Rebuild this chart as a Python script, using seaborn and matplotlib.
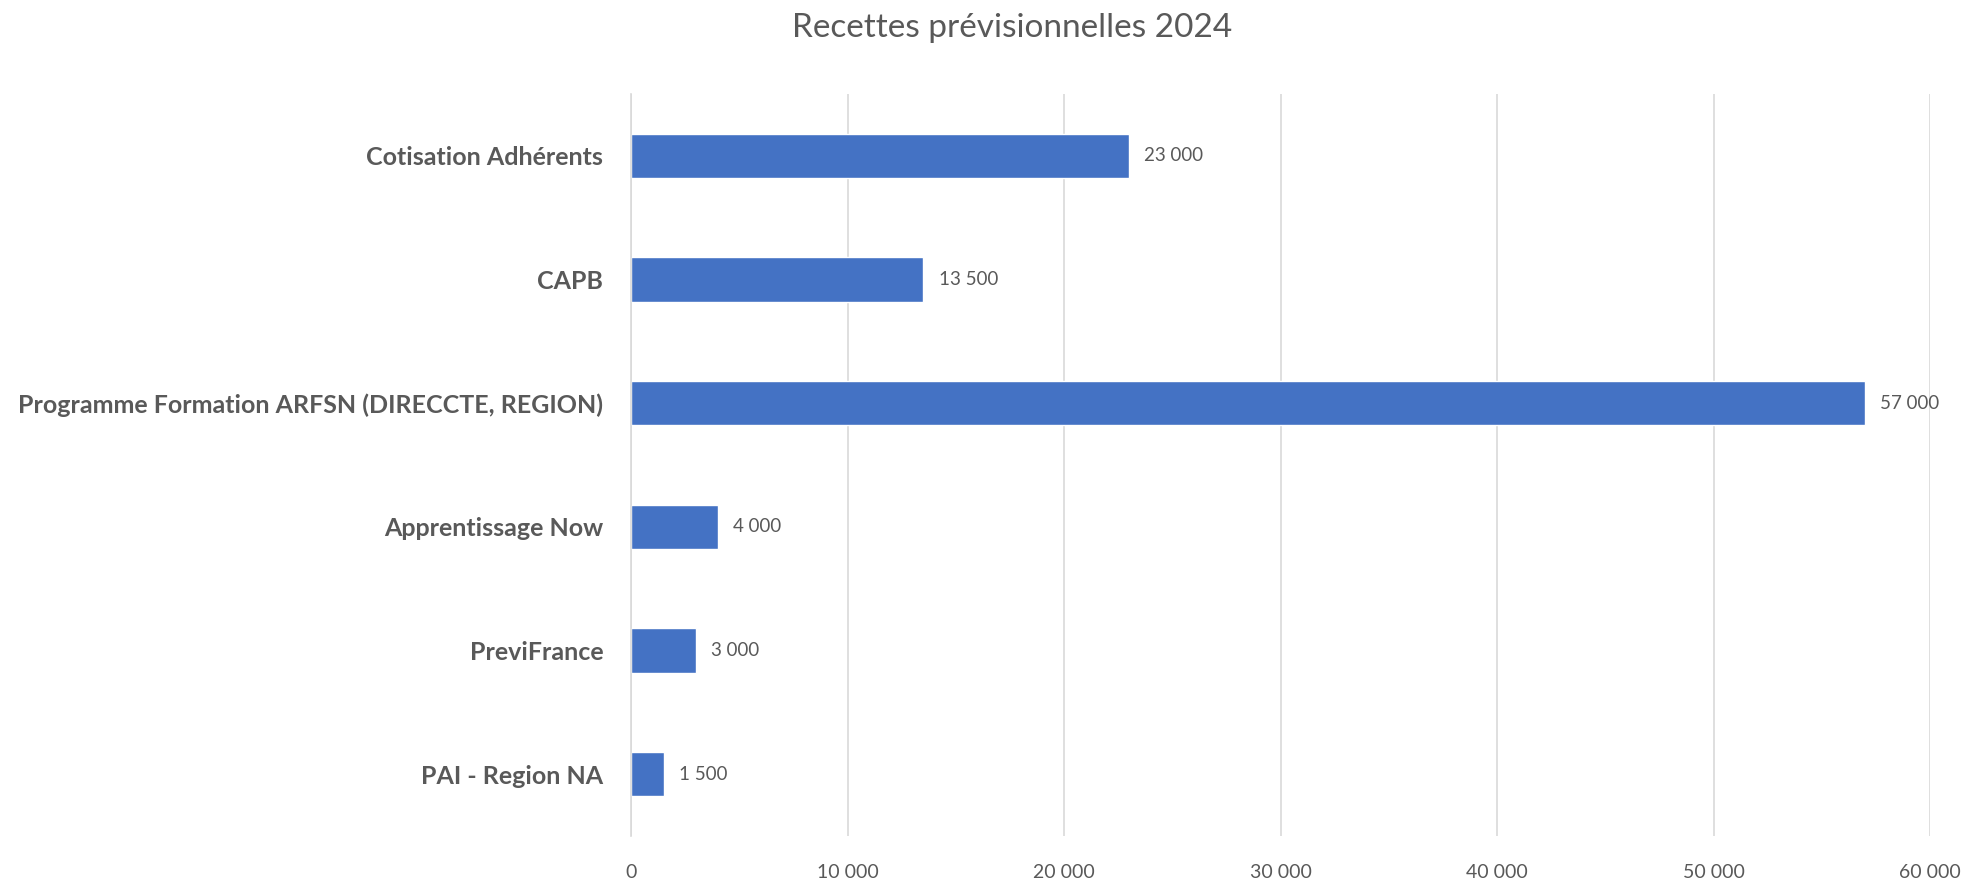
import matplotlib
matplotlib.use("Agg")
import matplotlib.pyplot as plt
import seaborn as sns

categories = [
    "Cotisation Adhérents",
    "CAPB",
    "Programme Formation ARFSN (DIRECCTE, REGION)",
    "Apprentissage Now",
    "PreviFrance",
    "PAI - Region NA",
]
values = [23000, 13500, 57000, 4000, 3000, 1500]
x_ticks = [0, 10000, 20000, 30000, 40000, 50000, 60000]

BAR = "#4472C4"
TXT = "#595959"
GRID = "#D9D9D9"


def fr(v):
    return f"{int(v):,}".replace(",", " ")


sns.set_style("white")
plt.rcParams["font.family"] = ["Lato", "DejaVu Sans"]

fig = plt.figure(figsize=(19.69, 8.8), dpi=100)
ax = fig.add_axes([0.3205, 0.05, 0.6597, 0.8432])

sns.barplot(x=values, y=categories, orient="h", color=BAR, width=0.36,
            saturation=1, ax=ax)
ax.bar_label(ax.containers[0], labels=[fr(v) for v in values],
             padding=11, fontsize=13.5, color=TXT)

ax.set_xlim(0, 60000)
ax.set_ylim(5.5, -0.5)
ax.set_xticks(x_ticks)
ax.set_xticklabels([fr(t) for t in x_ticks], fontsize=14, color=TXT)
ax.set_yticks(range(len(categories)))
ax.set_yticklabels(categories, fontsize=18, fontweight="bold", color=TXT)
ax.tick_params(axis="x", length=0, pad=20)
ax.tick_params(axis="y", length=0, pad=20)
ax.xaxis.grid(True, color=GRID, lw=1.2)
ax.set_axisbelow(True)
ax.set_xlabel("")
ax.set_ylabel("")
for s in ["top", "right", "bottom"]:
    ax.spines[s].set_visible(False)
ax.spines["left"].set_color(GRID)
ax.spines["left"].set_linewidth(1.2)

fig.suptitle("Recettes prévisionnelles 2024", fontsize=24, color=TXT,
             x=0.514, y=0.985)

fig.savefig("out.png", dpi=100)
